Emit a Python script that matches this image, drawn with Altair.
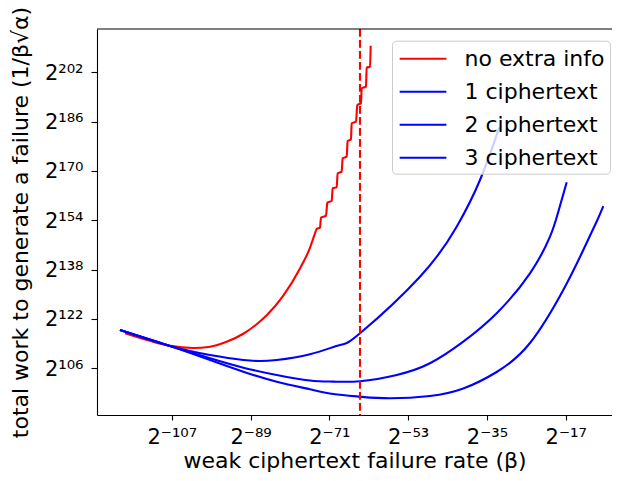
import altair as alt
import pandas as pd

# ---- data (log2 exponents) ----
series_names = ["no extra info", "1 ciphertext", "2 ciphertext", "3 ciphertext"]
series_colors = ["#ff0000", "#0000ff", "#0000ff", "#0000ff"]

red_x = [-117.69, -112.0, -107.41, -102.09, -98.27, -94.46, -90.66, -87.60, -85.32, -81.52,
         -77.71, -75.5, -74.28, -73.90, -73.14, -72.91, -71.77, -71.46, -70.47, -70.24,
         -69.33, -69.10, -68.19, -67.96, -67.04, -66.82, -66.06, -65.90, -64.91, -64.61,
         -63.77, -63.62, -62.63, -62.48, -61.71, -61.56]
red_y = [117.35, 114.9, 113.3, 112.6, 113.0, 114.6, 117.2, 120.3, 123.2, 129.6,
         138.4, 144.8, 149.77, 151.18, 151.61, 154.85, 155.50, 159.72, 160.26, 164.37,
         164.69, 169.23, 169.77, 174.10, 174.64, 179.72, 180.26, 185.45, 185.99, 191.40,
         191.94, 196.80, 197.34, 203.50, 203.83, 210.64]

c1_x = [-118.84, -107.41, -98.27, -90.66, -86.85, -83.03, -75.42, -68.57, -64.0,
        -50.29, -41.91, -36.58, -32.77, -32.3]
c1_y = [118.42, 113.23, 110.31, 108.69, 108.37, 108.69, 110.54, 113.56, 117.35,
        135.71, 151.92, 167.07, 181.67, 183.5]

c2_x = [-118.84, -107.41, -98.27, -90.66, -83.03, -75.42, -70.10, -64.0, -55.61, -48.01,
        -40.40, -32.77, -25.16, -20.59, -18.69, -16.77]
c2_y = [118.42, 113.23, 109.24, 106.20, 103.83, 102.05, 101.68, 101.80, 103.83, 107.62,
        114.63, 123.84, 136.81, 148.68, 156.79, 166.32]

c3_x = [-118.84, -107.41, -98.27, -90.66, -83.03, -75.42, -70.10, -64.0, -57.15, -48.01,
        -40.40, -32.77, -25.16, -17.55, -12.98, -9.92, -8.41]
c3_y = [118.42, 113.23, 108.69, 104.90, 101.65, 99.19, 97.66, 96.79, 96.27, 97.02,
        99.45, 104.80, 114.20, 131.40, 144.37, 153.6, 158.6]

threshold_x = [-64]

x_ticks = [-107, -89, -71, -53, -35, -17]
y_ticks = [106, 122, 138, 154, 170, 186, 202]

x_title = "weak ciphertext failure rate (β)"
y_title = "total work to generate a failure (1/β√α)"

# ---- build tables ----
rows = []
for name, xs, ys in zip(series_names, [red_x, c1_x, c2_x, c3_x], [red_y, c1_y, c2_y, c3_y]):
    for i, (xv, yv) in enumerate(zip(xs, ys)):
        rows.append({"series": name, "x": xv, "y": yv, "order": i})
df = pd.DataFrame(rows)
df_red = df[df["series"] == series_names[0]]
df_blue = df[df["series"] != series_names[0]]
df_rule = pd.DataFrame({"x": threshold_x})

SUP = str.maketrans("0123456789-", "⁰¹²³⁴⁵⁶⁷⁸⁹⁻")


def label_expr(ticks):
    expr = "''"
    for t in reversed(ticks):
        lab = "2" + str(t).translate(SUP)
        expr = f"datum.value == {t} ? '{lab}' : ({expr})"
    return expr


FONT = "DejaVu Sans"
W, H = 515, 386
x_dom = [-124.09, -6.42]
y_dom = [90.85, 216.04]

xscale = alt.Scale(domain=x_dom, nice=False, zero=False)
yscale = alt.Scale(domain=y_dom, nice=False, zero=False)

x_enc = alt.X("x:Q", scale=xscale,
              axis=alt.Axis(values=x_ticks, labelExpr=label_expr(x_ticks), title=x_title,
                            grid=False, tickSize=5, labelPadding=6, titleY=52,
                            titleBaseline="alphabetic", labelFlush=False, labelOverlap=False))
y_enc = alt.Y("y:Q", scale=yscale,
              axis=alt.Axis(values=y_ticks, labelExpr=label_expr(y_ticks), title=y_title,
                            grid=False, tickSize=6, labelPadding=8, titleX=-70, labelOffset=1,
                            titleBaseline="alphabetic", labelFlush=False, labelOverlap=False))
legend = alt.Legend(orient="none", legendX=295, legendY=11.7, title=None,
                    symbolType="M-2,0H2", symbolSize=545,
                    symbolOffset=13, symbolStrokeWidth=2.1,
                    labelFontSize=22, labelFont=FONT,
                    fillColor="rgba(255,255,255,0.8)", strokeColor="#cccccc",
                    cornerRadius=4, padding=5, rowPadding=9, zindex=2,
                    labelOffset=28.5, labelColor="black")
c_enc = alt.Color("series:N", scale=alt.Scale(domain=series_names, range=series_colors),
                  legend=legend)

red_line = alt.Chart(df_red).mark_line(strokeWidth=2.1, interpolate="monotone", clip=True).encode(
    x=x_enc, y=y_enc, color=c_enc, order=alt.Order("order:Q"),
)
blue_lines = alt.Chart(df_blue).mark_line(strokeWidth=2.1, interpolate="natural", clip=True).encode(
    x=x_enc, y=y_enc, color=c_enc, order=alt.Order("order:Q"),
)

rule = alt.Chart(df_rule).mark_rule(color="#ff0000", strokeWidth=2.1, strokeDash=[7.7, 3.3]).encode(
    x=alt.X("x:Q", scale=xscale)
)

top_border = alt.Chart(df_rule).mark_rule(color="black", strokeWidth=1.1).encode(
    x=alt.value(0), x2=alt.value(W), y=alt.value(0)
)

chart = alt.layer(red_line, blue_lines, rule, top_border).properties(
    width=W, height=H,
    autosize=alt.AutoSizeParams(type="none"),
    padding={"left": 89, "top": 21, "right": 0, "bottom": 58},
).configure_view(stroke=None).configure_axis(
    labelFont=FONT, titleFont=FONT, labelFontSize=21, titleFontSize=22,
    titleFontWeight="normal", labelColor="black", titleColor="black",
    domainColor="black", tickColor="black", domainWidth=1.1, tickWidth=1.1,
)

chart.save("out.html", embed_options={"renderer": "svg", "actions": False})
